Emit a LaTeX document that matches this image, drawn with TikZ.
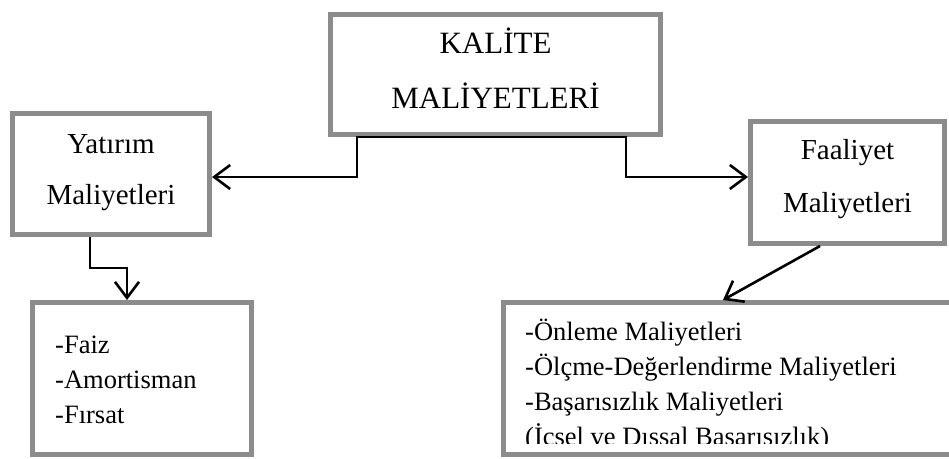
\documentclass[tikz,border=0pt]{standalone}
\usepackage{fontspec}
\setmainfont{Liberation Serif}
\usetikzlibrary{arrows.meta,calc}
\definecolor{bordergray}{RGB}{140,140,140}
\tikzset{
  box/.style={draw=bordergray, line width=5pt, fill=white, inner sep=0pt, rectangle},
  conn/.style={draw=black, line width=2.6pt, line join=miter},
  tip/.style={-{Straight Barb[length=16pt,width=24pt,line width=2.6pt]}},
  hdr/.style={inner sep=0pt, font=\fontsize{31}{37}\selectfont, anchor=base},
  mid/.style={inner sep=0pt, font=\fontsize{29}{35}\selectfont, anchor=base},
  lst/.style={inner sep=0pt, font=\fontsize{26.5}{32}\selectfont, anchor=base west},
}
\begin{document}
\begin{tikzpicture}[x=1pt,y=-1pt]
\useasboundingbox (0,0) rectangle (949,458);
\begin{scope}
\clip (0,0) rectangle (949,458);
% boxes
\node[box, minimum width=330, minimum height=120] (kal) at (495.5,74.5) {};
\node[box, minimum width=197, minimum height=121] (yat) at (111,174) {};
\node[box, minimum width=194, minimum height=122] (fa) at (847.5,182.5) {};
\node[box, minimum width=219, minimum height=152] (bl) at (142,378.5) {};
\node[box, minimum width=449.5, minimum height=152] (br) at (728.25,378.5) {};
% texts
\node[hdr] (kal1) at (495.5,53) {KALİTE};
\node[hdr] (kal2) at (495.5,108) {MALİYETLERİ};
\node[mid] (yat1) at (111,153) {Yatırım};
\node[mid] (yat2) at (111,204) {Maliyetleri};
\node[mid] (fa1) at (847.5,159) {Faaliyet};
\node[mid] (fa2) at (847.5,212) {Maliyetleri};
\node[lst] (bl1) at (55,353) {-Faiz};
\node[lst] (bl2) at (55,388) {-Amortisman};
\node[lst] (bl3) at (55,423) {-Fırsat};
\begin{scope}
\clip (503,300) rectangle (949,443);
\node[lst] (br1) at (525,340) {-Önleme Maliyetleri};
\node[lst] (br2) at (525,375) {-Ölçme-Değerlendirme Maliyetleri};
\node[lst] (br3) at (525,410) {-Başarısızlık Maliyetleri};
\node[lst] (br4) at (525,445) {(İcsel ve Dıssal Basarısızlık)};
\end{scope}
% connectors
\coordinate (kl) at (357,177);
\coordinate (kr) at (626,177);
\draw[conn, {Straight Barb[length=16pt,width=24pt,line width=2.6pt]}-{Straight Barb[length=16pt,width=24pt,line width=2.6pt]}]
  (kl -| yat.east) -- (kl) -- (kal.south -| kl) -- (kal.south -| kr) -- (kr) -- (kr -| fa.west);
\coordinate (y1) at (90,268);
\coordinate (y2) at (127,268);
\draw[conn, tip] (yat.south -| y1) -- (y1) -- (y2) -- (y2 |- bl.north);
\coordinate (fs) at (820,244);
\coordinate (ft) at (723,300);
\draw[conn, tip] (fa.south -| fs) -- (br.north -| ft);
\end{scope}
\end{tikzpicture}
\end{document}
